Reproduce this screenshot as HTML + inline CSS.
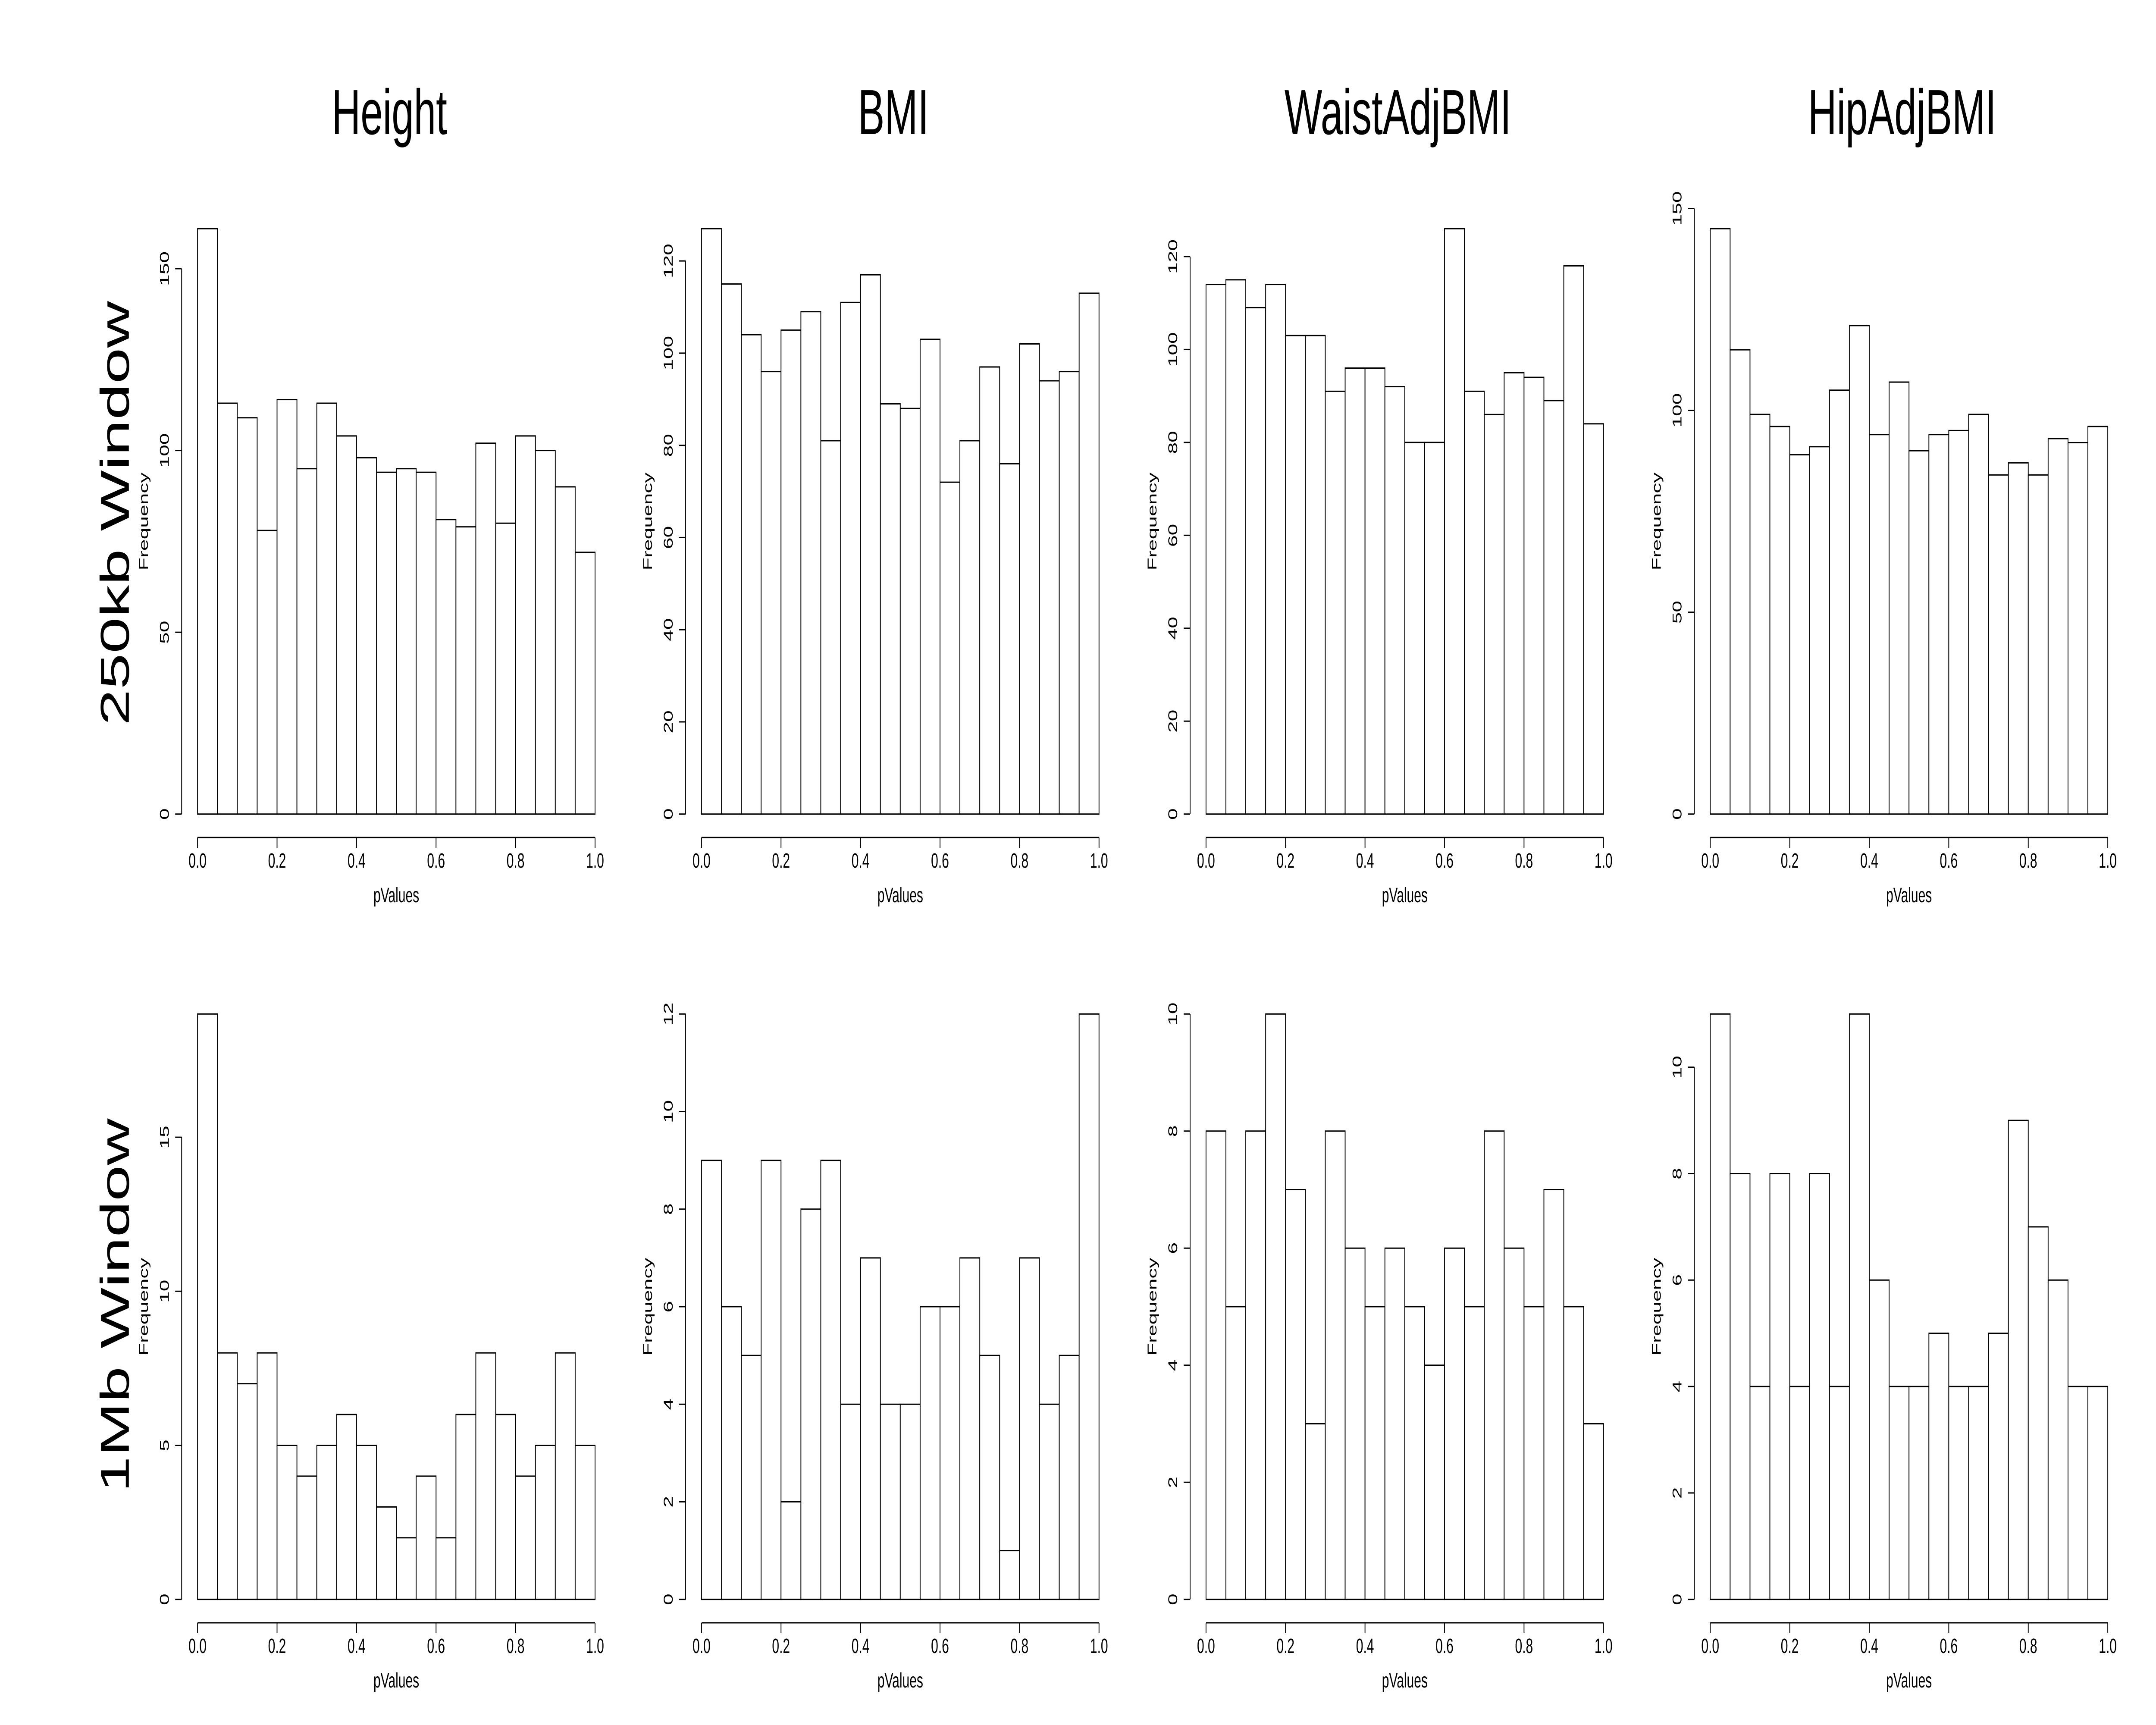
<!DOCTYPE html>
<html><head><meta charset="utf-8">
<style>
html,body{margin:0;padding:0;background:#fff;width:100%;height:100%;overflow:hidden;}
svg{display:block;width:100vw;height:100vh;}
text{font-family:"Liberation Sans",Arial,sans-serif;fill:#000;}
</style></head>
<body>
<svg id="chart" xmlns="http://www.w3.org/2000/svg" viewBox="0 0 8000 4000" preserveAspectRatio="none">
<rect x="0" y="0" width="8000" height="4000" fill="#fff"/>
</svg>
<script>
const traits = ["Height", "BMI", "WaistAdjBMI", "HipAdjBMI"];
const windows = ["250kb Window", "1Mb Window"];
const xTicks = [0, 0.2, 0.4, 0.6, 0.8, 1.0];
const xTickLabels = ["0.0", "0.2", "0.4", "0.6", "0.8", "1.0"];
const binEdgesStart = 0, binWidth = 0.05;

const height250 = [161,113,109,78,114,95,113,104,98,94,95,94,81,79,102,80,104,100,90,72];
const bmi250 = [127,115,104,96,105,109,81,111,117,89,88,103,72,81,97,76,102,94,96,113];
const waist250 = [114,115,109,114,103,103,91,96,96,92,80,80,126,91,86,95,94,89,118,84];
const hip250 = [145,115,99,96,89,91,105,121,94,107,90,94,95,99,84,87,84,93,92,96];
const height1mb = [19,8,7,8,5,4,5,6,5,3,2,4,2,6,8,6,4,5,8,5];
const bmi1mb = [9,6,5,9,2,8,9,4,7,4,4,6,6,7,5,1,7,4,5,12];
const waist1mb = [8,5,8,10,7,3,8,6,5,6,5,4,6,5,8,6,5,7,5,3];
const hip1mb = [11,8,4,8,4,8,4,11,6,4,4,5,4,4,5,9,7,6,4,4];

const yTicksHeight250 = [0,50,100,150];
const yTicksBmi250 = [0,20,40,60,80,100,120];
const yTicksWaist250 = [0,20,40,60,80,100,120];
const yTicksHip250 = [0,50,100,150];
const yTicksHeight1mb = [0,5,10,15];
const yTicksBmi1mb = [0,2,4,6,8,10,12];
const yTicksWaist1mb = [0,2,4,6,8,10];
const yTicksHip1mb = [0,2,4,6,8,10];

const panels = [
  [height250, yTicksHeight250], [bmi250, yTicksBmi250], [waist250, yTicksWaist250], [hip250, yTicksHip250],
  [height1mb, yTicksHeight1mb], [bmi1mb, yTicksBmi1mb], [waist1mb, yTicksWaist1mb], [hip1mb, yTicksHip1mb]
];

const NS = "http://www.w3.org/2000/svg";
const svg = document.getElementById("chart");
const colX0 = [733, 2603, 4475, 6346];
const DW = 1475;
const rowTop = [476, 2297];
const PH = 1466;

function mk(tag, attrs, parent) {
  const e = document.createElementNS(NS, tag);
  for (const k in attrs) e.setAttribute(k, attrs[k]);
  (parent || svg).appendChild(e);
  return e;
}

traits.forEach((t, c) => {
  const e = mk("text", {x: colX0[c] + 712, y: 311, "font-size": 148, "text-anchor": "middle"});
  
  
  e.textContent = t;
});
const rowLabelY = [1190, 3027];
windows.forEach((w, r) => {
  const e = mk("text", {x: 0, y: 0, "font-size": 150, "text-anchor": "middle",
    transform: "translate(478," + rowLabelY[r] + ") rotate(-90)"});
  
  
  e.textContent = w;
});

panels.forEach((p, i) => {
  const counts = p[0], yTicks = p[1];
  const r = Math.floor(i / 4), c = i % 4;
  const x0 = colX0[c];
  const B = rowTop[r] + PH;
  const maxC = Math.max(...counts);
  const sc = PH / (1.08 * maxC);
  const xs = v => x0 + v * DW;
  const ys = v => B - (v + 0.04 * maxC) * sc;

  const g = mk("g", {});
  
  

  counts.forEach((v, k) => {
    const a = binEdgesStart + k * binWidth, b = a + binWidth;
    const rc = mk("rect", {x: xs(a), y: ys(v), width: xs(b) - xs(a), height: ys(0) - ys(v),
      fill: "#fff", stroke: "#000", "stroke-width": 3}, g);
    
    
  });

  const xa = mk("g", {stroke: "#000", "stroke-width": 3}, g);
  
  
  mk("line", {x1: xs(0), x2: xs(1), y1: B, y2: B}, xa);
  xTicks.forEach((t, k) => {
    mk("line", {x1: xs(t), x2: xs(t), y1: B, y2: B + 24}, xa);
    const tl = mk("text", {x: xs(t), y: B + 70, "font-size": 48, "text-anchor": "middle", stroke: "none"}, g);
    
    
    tl.textContent = xTickLabels[k];
  });
  const xl = mk("text", {x: xs(0.5), y: B + 150, "font-size": 48, "text-anchor": "middle"}, g);
  
  
  xl.textContent = "pValues";

  const ax = x0 - 59;
  const ya = mk("g", {stroke: "#000", "stroke-width": 3}, g);
  
  
  mk("line", {x1: ax, x2: ax, y1: ys(yTicks[0]), y2: ys(yTicks[yTicks.length - 1])}, ya);
  yTicks.forEach(t => {
    mk("line", {x1: ax, x2: ax - 24, y1: ys(t), y2: ys(t)}, ya);
    const tl = mk("text", {x: 0, y: 0, "font-size": 48, "text-anchor": "middle",
      transform: "translate(" + (x0 - 107) + "," + ys(t) + ") rotate(-90)"}, g);
    
    
    tl.textContent = String(t);
  });
  const yl = mk("text", {x: 0, y: 0, "font-size": 48, "text-anchor": "middle",
    transform: "translate(" + (x0 - 184) + "," + (rowTop[r] + PH / 2) + ") rotate(-90)"}, g);
  
  
  yl.textContent = "Frequency";
});
</script>
</body></html>
